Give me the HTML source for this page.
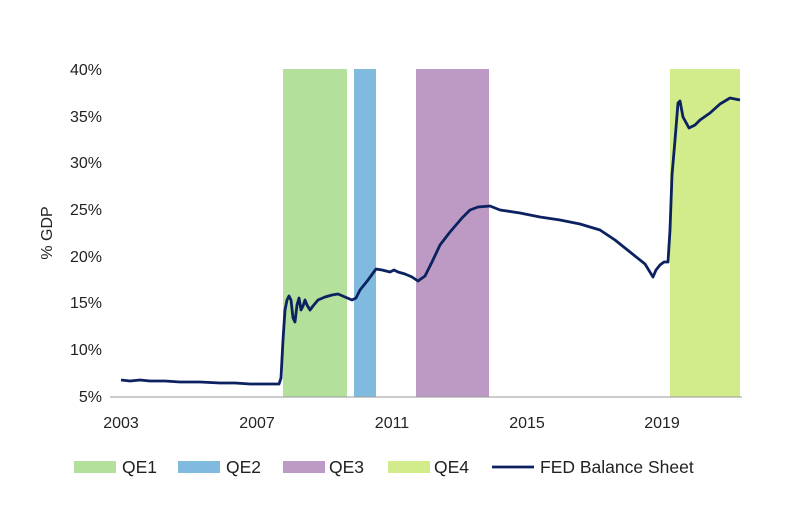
<!DOCTYPE html>
<html><head><style>
body{margin:0;background:#fff;}
svg text{font-family:"Liberation Sans",sans-serif;fill:#222;}
</style></head><body>
<svg width="800" height="502" xmlns="http://www.w3.org/2000/svg">
<rect x="283" y="69" width="64" height="328" fill="#b3e09a"/>
<rect x="354" y="69" width="22" height="328" fill="#80bbdf"/>
<rect x="416" y="69" width="73" height="328" fill="#bd9ac3"/>
<rect x="670" y="69" width="70" height="328" fill="#d2ec8c"/>
<line x1="110" y1="397" x2="742" y2="397" stroke="#999" stroke-width="1"/>
<g font-size="16" text-anchor="end">
<text x="102" y="75">40%</text>
<text x="102" y="122">35%</text>
<text x="102" y="168">30%</text>
<text x="102" y="215">25%</text>
<text x="102" y="262">20%</text>
<text x="102" y="308">15%</text>
<text x="102" y="355">10%</text>
<text x="102" y="402">5%</text>
</g>
<g font-size="16" text-anchor="middle">
<text x="121" y="428">2003</text>
<text x="257" y="428">2007</text>
<text x="392" y="428">2011</text>
<text x="527" y="428">2015</text>
<text x="662" y="428">2019</text>
</g>
<text font-size="16" transform="translate(52,233) rotate(-90)" text-anchor="middle">% GDP</text>
<polyline fill="none" stroke="#0b2160" stroke-width="2.8" stroke-linejoin="round" points="121,380 130,381 140,380 150,381 165,381 180,382 200,382 220,383 235,383 250,384 265,384 279,384 281,378 283,340 285,310 287,300 289,296 291,300 293,318 295,322 297,305 299,298 301,310 303,306 305,300 307,305 310,310 313,306 318,300 325,297 332,295 338,294 345,297 352,300 356,298 360,290 368,280 376,269 382,270 390,272 394,270 398,272 405,274 412,277 418,281 425,276 432,262 440,245 450,232 462,218 470,210 478,207 490,206 500,210 520,213 540,217 560,220 580,224 600,230 615,240 630,252 645,264 653,277 656,270 660,265 664,262 668,262 670,230 672,175 675,140 678,103 680,101 683,117 689,128 695,125 700,120 710,113 720,104 730,98 740,100"/>
<g font-size="17.5">
<rect x="74" y="461" width="42" height="12" fill="#b3e09a"/><text x="122" y="473">QE1</text>
<rect x="178" y="461" width="42" height="12" fill="#80bbdf"/><text x="226" y="473">QE2</text>
<rect x="283" y="461" width="42" height="12" fill="#bd9ac3"/><text x="329" y="473">QE3</text>
<rect x="388" y="461" width="42" height="12" fill="#d2ec8c"/><text x="434" y="473">QE4</text>
<line x1="492" y1="467" x2="534" y2="467" stroke="#0b2160" stroke-width="2.8"/><text x="540" y="473">FED Balance Sheet</text>
</g>
</svg>
</body></html>
